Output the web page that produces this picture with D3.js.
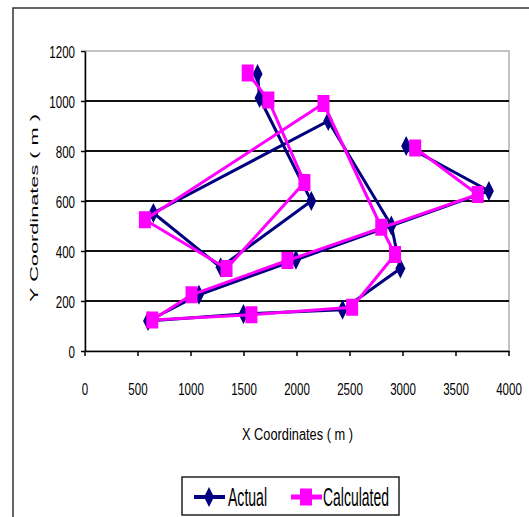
<!DOCTYPE html>
<html>
<head>
<meta charset="utf-8">
<title>Actual vs Calculated coordinates</title>
<style>
    body { margin: 0; padding: 0; background: white; }
    text { font-family: "Liberation Sans Narrow", "Arial Narrow", "Liberation Sans", sans-serif; fill: #000; }
</style>
</head>
<body>
<div id="chart"></div>
<script src="https://cdn.jsdelivr.net/npm/d3@7/dist/d3.min.js"></script>
<script>
    // values
    let actualX = [1628, 1647, 2135, 1280, 645, 2295, 2890, 2975, 2430, 1495, 595, 1075, 1990, 3810, 3030]
    let actualY = [1108, 1012, 600, 335, 552, 920, 502, 330, 165, 148, 120, 225, 365, 640, 820]
    let calcX = [1535, 1730, 2070, 1335, 565, 2250, 2795, 2925, 2520, 1570, 635, 1005, 1910, 3705, 3115]
    let calcY = [1112, 1004, 674, 330, 525, 990, 495, 386, 175, 145, 124, 225, 362, 626, 812]
    let xTicks = [0, 500, 1000, 1500, 2000, 2500, 3000, 3500, 4000]
    let yTicks = [0, 200, 400, 600, 800, 1000, 1200]
    let seriesNames = ["Actual", "Calculated"]

    let width = 529, height = 517
    let plotLeft = 85, plotRight = 509, plotTop = 51, plotBottom = 351

    let svg = d3.select("#chart").append("svg")
        .attr("width", width)
        .attr("height", height)

    // outer frame
    svg.append("rect")
        .attr("x", 13).attr("y", 8)
        .attr("width", 540).attr("height", 540)
        .attr("fill", "white")
        .attr("stroke", "#333")
        .attr("stroke-width", 1.5)

    let x = d3.scaleLinear().domain([0, 4000]).range([plotLeft, plotRight])
    let y = d3.scaleLinear().domain([0, 1200]).range([plotBottom, plotTop])

    // plot border (light grey top / right)
    svg.append("rect")
        .attr("x", plotLeft).attr("y", plotTop)
        .attr("width", plotRight - plotLeft).attr("height", plotBottom - plotTop)
        .attr("fill", "none")
        .attr("stroke", "#b0b0b0")
        .attr("stroke-width", 1.5)

    // gridlines
    svg.append("g")
        .selectAll("line")
        .data(yTicks.filter(d => d > 0 && d < 1200))
        .enter().append("line")
        .attr("x1", plotLeft).attr("x2", plotRight)
        .attr("y1", d => y(d)).attr("y2", d => y(d))
        .attr("stroke", "#111")
        .attr("stroke-width", 2)

    // squeeze the tick labels sideways, the original font is very condensed
    let sx = 0.68
    let fmt = d3.format("d")

    let yAxis = svg.append("g")
        .attr("transform", "translate(" + plotLeft + ",0)")
        .call(d3.axisLeft(y).tickValues(yTicks).tickFormat(fmt).tickSize(4).tickSizeOuter(0))
    yAxis.select(".domain").attr("stroke", "#000").attr("stroke-width", 1.5)
    yAxis.selectAll(".tick line").attr("stroke", "#000").attr("stroke-width", 1.5)
    yAxis.selectAll(".tick text")
        .attr("font-size", 17)
        .attr("x", -10 / sx)
        .attr("dy", "0.36em")
        .attr("transform", "scale(" + sx + ",1)")
    yAxis.attr("font-family", null).attr("font-size", null)

    let xAxis = svg.append("g")
        .attr("transform", "translate(0," + plotBottom + ")")
        .call(d3.axisBottom(x).tickValues(xTicks).tickFormat(fmt).tickSize(5).tickSizeOuter(0))
    xAxis.select(".domain").attr("stroke", "#000").attr("stroke-width", 1.5)
    xAxis.selectAll(".tick line").attr("stroke", "#000").attr("stroke-width", 1.5)
    xAxis.selectAll(".tick text")
        .attr("font-size", 17)
        .attr("y", 44)
        .attr("dy", 0)
        .attr("transform", "scale(" + sx + ",1)")
    xAxis.selectAll(".tick").each(function(d) {
        d3.select(this).attr("transform", "translate(" + x(d) + ",0)")
        d3.select(this).select("text").attr("x", 0)
    })
    xAxis.attr("font-family", null).attr("font-size", null)

    // axis titles
    svg.append("text")
        .attr("x", 242).attr("y", 440)
        .attr("font-size", 16)
        .attr("textLength", 111)
        .attr("lengthAdjust", "spacingAndGlyphs")
        .text("X Coordinates ( m )")

    svg.append("text")
        .attr("transform", "translate(38,302) rotate(-90)")
        .attr("font-size", 11)
        .attr("textLength", 188)
        .attr("lengthAdjust", "spacingAndGlyphs")
        .text("Y Coordinates ( m )")

    let line = d3.line().x(d => x(d[0])).y(d => y(d[1]))
    let actual = actualX.map((d, i) => [d, actualY[i]])
    let calc = calcX.map((d, i) => [d, calcY[i]])

    let navy = "#000080", pink = "#ff00ff"

    function diamond(g, cx, cy) {
        g.append("path")
            .attr("d", "M" + cx + "," + (cy - 10) + "L" + (cx + 5) + "," + cy + "L" + cx + "," + (cy + 10) + "L" + (cx - 5) + "," + cy + "Z")
            .attr("fill", navy)
    }
    function square(g, cx, cy) {
        g.append("rect")
            .attr("x", cx - 6).attr("y", cy - 8.5)
            .attr("width", 12).attr("height", 17)
            .attr("fill", pink)
    }

    let plot = svg.append("g")
    plot.append("path")
        .datum(actual)
        .attr("d", line)
        .attr("fill", "none")
        .attr("stroke", navy)
        .attr("stroke-width", 3)
    actual.forEach(d => diamond(plot, x(d[0]), y(d[1])))

    plot.append("path")
        .datum(calc)
        .attr("d", line)
        .attr("fill", "none")
        .attr("stroke", pink)
        .attr("stroke-width", 3)
    calc.forEach(d => square(plot, x(d[0]), y(d[1])))

    // legend
    let legend = svg.append("g")
    legend.append("rect")
        .attr("x", 182).attr("y", 477)
        .attr("width", 217).attr("height", 38)
        .attr("fill", "white")
        .attr("stroke", "#222")
        .attr("stroke-width", 1.5)

    legend.append("line")
        .attr("x1", 194).attr("x2", 225)
        .attr("y1", 497).attr("y2", 497)
        .attr("stroke", navy).attr("stroke-width", 4)
    diamond(legend, 209, 497)
    legend.append("text")
        .attr("x", 228).attr("y", 506)
        .attr("font-size", 25)
        .attr("textLength", 39)
        .attr("lengthAdjust", "spacingAndGlyphs")
        .text(seriesNames[0])

    legend.append("line")
        .attr("x1", 291).attr("x2", 322)
        .attr("y1", 497).attr("y2", 497)
        .attr("stroke", pink).attr("stroke-width", 5)
    square(legend, 306, 497)
    legend.append("text")
        .attr("x", 323).attr("y", 506)
        .attr("font-size", 25)
        .attr("textLength", 66)
        .attr("lengthAdjust", "spacingAndGlyphs")
        .text(seriesNames[1])
</script>
</body>
</html>
